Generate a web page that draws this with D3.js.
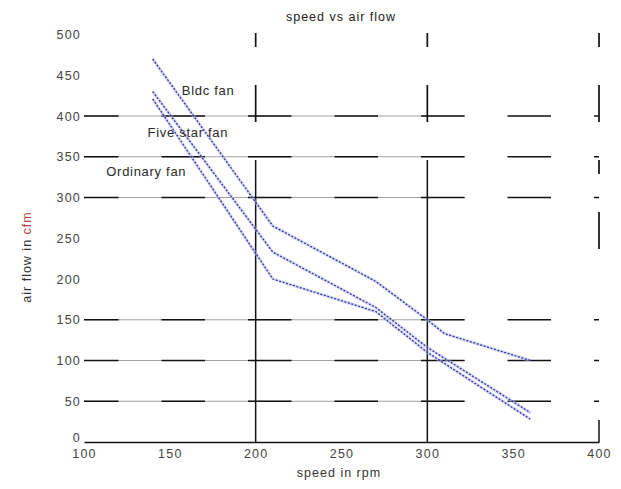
<!DOCTYPE html>
<html>
<head>
<meta charset="utf-8">
<script src="https://cdn.jsdelivr.net/npm/d3@7"></script>
<style>
  html, body { margin: 0; padding: 0; background: #fff; }
  svg { display: block; }
  text { font-family: "Liberation Sans", Arial, sans-serif; }
</style>
</head>
<body>
<svg id="chart" width="621" height="489"></svg>
<script>
// ---- data ----
const seriesNames = ["Bldc fan", "Five star fan", "Ordinary fan"];
const bldcSpeed = [140, 210, 270, 300, 310, 360];
const bldcFlow  = [470, 265, 197, 150, 133, 100];
const fiveSpeed = [140, 210, 270, 300, 360];
const fiveFlow  = [430, 233, 165, 116, 36];
const ordSpeed  = [140, 210, 270, 300, 360];
const ordFlow   = [421, 200, 160, 110, 28];
const xTicks = [100, 150, 200, 250, 300, 350, 400];
const yTicks = [0, 50, 100, 150, 200, 250, 300, 350, 400, 450, 500];
const gridRows = [50, 100, 150, 300, 350, 400];
const gridCols = [200, 300, 400];
// label anchor points (speed, flow) for the in-plot annotations
const labelSpeed = [157, 137, 113];
const labelFlow  = [426, 374, 326];

const titleText = "speed vs air flow";
const xLabel = "speed in rpm";

// ---- scales ----
const svg = d3.select("#chart");
const x = d3.scaleLinear().domain([100, 400]).range([84, 599]);
const y = d3.scaleLinear().domain([0, 500]).range([442, 34.5]);

// ---- grid: horizontal rows ----
const gGrid = svg.append("g");
gridRows.forEach(v => {
  // thin connector
  gGrid.append("line")
    .attr("x1", x(100)).attr("x2", x(322))
    .attr("y1", y(v)).attr("y2", y(v))
    .attr("stroke", "#8a8a8a").attr("stroke-width", 0.8);
  // dark dashes
  gGrid.append("line")
    .attr("x1", x(100)).attr("x2", x(400))
    .attr("y1", y(v)).attr("y2", y(v))
    .attr("stroke", "#111").attr("stroke-width", 1.7)
    .attr("stroke-dasharray", "43.5,43")
    .attr("stroke-dashoffset", 9);
});

// ---- grid: vertical columns ----
gridCols.forEach(v => {
  const top = y(500);
  // dashed upper part
  gGrid.append("line")
    .attr("x1", x(v)).attr("x2", x(v))
    .attr("y1", top - 1.5).attr("y2", v === 400 ? y(205) : y(346))
    .attr("stroke", "#111").attr("stroke-width", 1.7)
    .attr("stroke-dasharray", "14,38,37,38");
  if (v !== 400) {
    gGrid.append("line")
      .attr("x1", x(v)).attr("x2", x(v))
      .attr("y1", y(346)).attr("y2", y(0))
      .attr("stroke", "#111").attr("stroke-width", 1.5);
  } else {
    gGrid.append("line")
      .attr("x1", x(v)).attr("x2", x(v))
      .attr("y1", y(27)).attr("y2", y(0))
      .attr("stroke", "#111").attr("stroke-width", 1.5);
  }
});

// ---- axes ----
const xAxis = svg.append("g")
  .attr("transform", `translate(0,${y(0)})`)
  .call(d3.axisBottom(x).tickValues(xTicks).tickSize(0).tickPadding(7).tickFormat(d3.format("d")));
xAxis.select(".domain").attr("stroke", "#111").attr("stroke-width", 1.6);
xAxis.selectAll("text")
  .attr("font-size", 12.5).attr("fill", "#444")
  .attr("letter-spacing", 1.2)
  .attr("font-family", "Liberation Sans, Arial, sans-serif");

const yAxis = svg.append("g")
  .attr("transform", `translate(${x(100) - 3},0)`)
  .call(d3.axisLeft(y).tickValues(yTicks).tickSize(0).tickPadding(0).tickFormat(d3.format("d")));
yAxis.select(".domain").remove();
yAxis.selectAll("text")
  .attr("font-size", 12.5).attr("fill", "#444")
  .attr("letter-spacing", 1.2)
  .attr("font-family", "Liberation Sans, Arial, sans-serif")
  .attr("dy", d => d === 0 ? "-0.05em" : "0.32em");

// ---- series ----
const seriesData = [
  bldcSpeed.map((s, i) => [s, bldcFlow[i]]),
  fiveSpeed.map((s, i) => [s, fiveFlow[i]]),
  ordSpeed.map((s, i) => [s, ordFlow[i]])
];
const line = d3.line().x(d => x(d[0])).y(d => y(d[1]));
const gLines = svg.append("g");
seriesData.forEach(pts => {
  gLines.append("path").datum(pts).attr("d", line)
    .attr("fill", "none").attr("stroke", "#bdbdf0")
    .attr("stroke-width", 3.2).attr("stroke-opacity", 0.55);
  gLines.append("path").datum(pts).attr("d", line)
    .attr("fill", "none").attr("stroke", "#34349c")
    .attr("stroke-width", 1.3).attr("stroke-dasharray", "2,1.6");
});

// ---- annotations ----
seriesNames.forEach((name, i) => {
  svg.append("text")
    .attr("x", x(labelSpeed[i])).attr("y", y(labelFlow[i]))
    .attr("font-size", 13).attr("letter-spacing", 0.7)
    .attr("fill", "#2a2a2a")
    .text(name);
});

// ---- title and axis labels ----
svg.append("text")
  .attr("x", 341).attr("y", 21)
  .attr("text-anchor", "middle")
  .attr("font-size", 12.5).attr("letter-spacing", 1)
  .attr("fill", "#222")
  .text(titleText);

svg.append("text")
  .attr("x", 339).attr("y", 477)
  .attr("text-anchor", "middle")
  .attr("font-size", 12.5).attr("letter-spacing", 1)
  .attr("fill", "#333")
  .text(xLabel);

const yl = svg.append("text")
  .attr("transform", `translate(31,257) rotate(-90)`)
  .attr("text-anchor", "middle")
  .attr("font-size", 12.5).attr("letter-spacing", 1)
  .attr("fill", "#333");
yl.append("tspan").text("air flow in ");
yl.append("tspan").attr("fill", "#b84040").text("cfm");
</script>
</body>
</html>
